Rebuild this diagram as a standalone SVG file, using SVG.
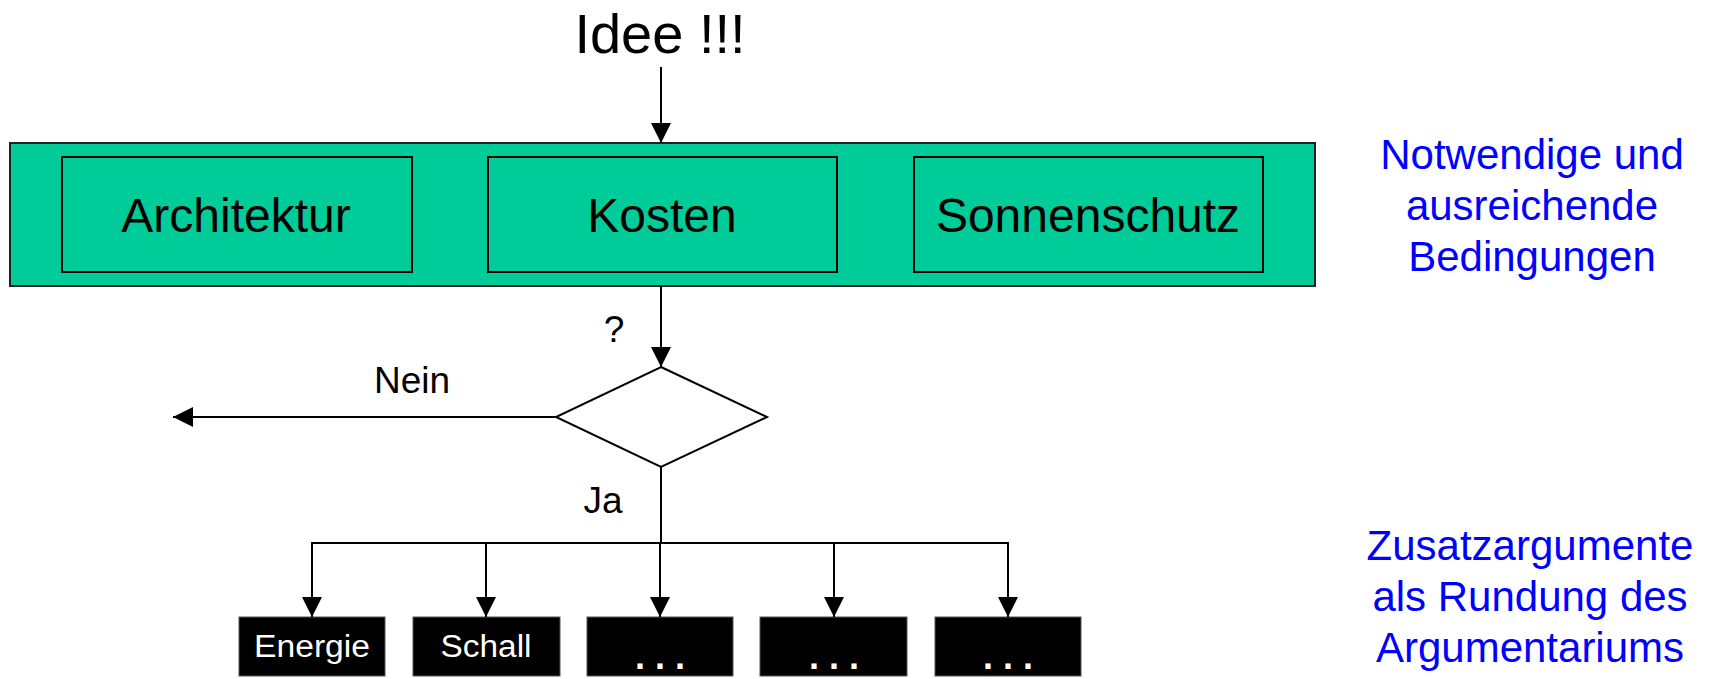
<svg xmlns="http://www.w3.org/2000/svg" width="1712" height="679" viewBox="0 0 1712 679">
  <style>
    text { font-family: "Liberation Sans", Arial, sans-serif; text-anchor: middle; }
    .big { font-size: 48px; fill: #000; }
    .title { font-size: 56px; fill: #000; }
    .label { font-size: 37px; fill: #000; }
    .note { font-size: 42px; fill: #0000FF; }
    .small { font-size: 31px; fill: #fff; }
    .dots { font-size: 36px; font-weight: bold; fill: #fff; }
    .outer { fill: #00CC99; stroke: #222; stroke-width: 2; }
    .inner { fill: #00CC99; stroke: #000; stroke-width: 2; }
    .dark { fill: #000; stroke: #555; stroke-width: 1; }
    .wire { fill: none; stroke: #000; stroke-width: 2; }
  </style>
  <defs>
    <marker id="arrow" markerUnits="userSpaceOnUse" markerWidth="20" markerHeight="20" refX="20" refY="10" orient="auto">
      <path d="M0,0 L20,10 L0,20 Z" fill="#000"/>
    </marker>
  </defs>

  <rect width="1712" height="679" fill="#fff"/>

  <!-- Start label -->
  <g id="idee">
    <text class="title" x="660" y="53">Idee !!!</text>
  </g>

  <!-- Required conditions band -->
  <g id="conditions">
    <rect class="outer" x="10" y="143" width="1305" height="143"/>
  </g>
  <g id="architektur">
    <rect class="inner" x="62" y="157" width="350" height="115"/>
    <text class="big" x="236" y="232">Architektur</text>
  </g>
  <g id="kosten">
    <rect class="inner" x="488" y="157" width="349" height="115"/>
    <text class="big" x="662" y="232">Kosten</text>
  </g>
  <g id="sonnenschutz">
    <rect class="inner" x="914" y="157" width="349" height="115"/>
    <text class="big" x="1088" y="232">Sonnenschutz</text>
  </g>

  <!-- Decision -->
  <g id="decision">
    <polygon points="661,367 767,417 661,467 556,417" fill="#fff" stroke="#000" stroke-width="2"/>
  </g>

  <!-- Additional arguments -->
  <g id="energie">
    <rect class="dark" x="239" y="617" width="146" height="59"/>
    <text class="small" x="312" y="657" textLength="116" lengthAdjust="spacingAndGlyphs">Energie</text>
  </g>
  <g id="schall">
    <rect class="dark" x="413" y="617" width="147" height="59"/>
    <text class="small" x="486" y="657" textLength="91" lengthAdjust="spacingAndGlyphs">Schall</text>
  </g>
  <g id="more1">
    <rect class="dark" x="587" y="617" width="146" height="59"/>
    <text class="dots" x="660" y="669">. . .</text>
  </g>
  <g id="more2">
    <rect class="dark" x="760" y="617" width="147" height="59"/>
    <text class="dots" x="834" y="669">. . .</text>
  </g>
  <g id="more3">
    <rect class="dark" x="935" y="617" width="146" height="59"/>
    <text class="dots" x="1008" y="669">. . .</text>
  </g>

  <!-- Connectors -->
  <g id="connectors">
    <line class="wire" x1="661" y1="67" x2="661" y2="143" marker-end="url(#arrow)"/>
    <line class="wire" x1="661" y1="286" x2="661" y2="367" marker-end="url(#arrow)"/>
    <line class="wire" x1="556" y1="417" x2="173" y2="417" marker-end="url(#arrow)"/>
    <polyline class="wire" points="661,467 661,543"/>
    <line class="wire" x1="312" y1="543" x2="1008" y2="543"/>
    <line class="wire" x1="312" y1="542" x2="312" y2="617" marker-end="url(#arrow)"/>
    <line class="wire" x1="486" y1="542" x2="486" y2="617" marker-end="url(#arrow)"/>
    <line class="wire" x1="660" y1="542" x2="660" y2="617" marker-end="url(#arrow)"/>
    <line class="wire" x1="834" y1="542" x2="834" y2="617" marker-end="url(#arrow)"/>
    <line class="wire" x1="1008" y1="542" x2="1008" y2="617" marker-end="url(#arrow)"/>
  </g>

  <!-- Connector labels -->
  <g id="connector-labels">
    <text class="label" x="614" y="342">?</text>
    <text class="label" x="412" y="393">Nein</text>
    <text class="label" x="603" y="513">Ja</text>
  </g>

  <!-- Side notes -->
  <g id="note-top">
    <text class="note" x="1532" y="169">Notwendige und</text>
    <text class="note" x="1532" y="220">ausreichende</text>
    <text class="note" x="1532" y="271">Bedingungen</text>
  </g>
  <g id="note-bottom">
    <text class="note" x="1530" y="560">Zusatzargumente</text>
    <text class="note" x="1530" y="611">als Rundung des</text>
    <text class="note" x="1530" y="662">Argumentariums</text>
  </g>
</svg>
